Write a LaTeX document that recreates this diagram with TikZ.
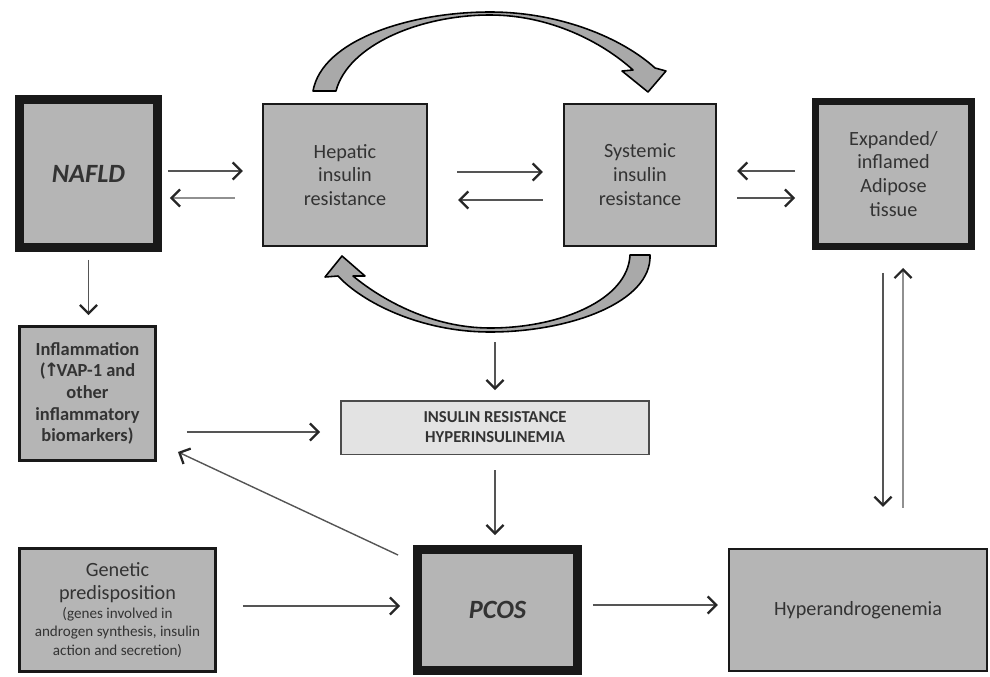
\documentclass[tikz,border=0pt]{standalone}
\usepackage{fontspec}
\setmainfont{Carlito}
\newfontfamily\symfont{DejaVu Sans}
\usepackage{tikz}
\usetikzlibrary{arrows.meta, positioning, calc}
\definecolor{boxgray}{HTML}{B5B5B5}
\definecolor{palegray}{HTML}{E3E3E3}
\definecolor{bandgray}{HTML}{A9A9A9}
\definecolor{inkgray}{HTML}{333333}
\definecolor{linegray}{HTML}{555555}
\newcommand{\smalltxt}{\fontsize{8.6}{10.2}\selectfont}

\begin{document}
\begin{tikzpicture}[
  x=0.02cm, y=-0.02cm,
  box/.style={rectangle, draw=black!90, line width=0.05cm, fill=boxgray,
              text=inkgray, align=center, inner sep=2pt,
              font=\fontsize{11.5}{13.6}\selectfont},
  heavybox/.style={box, line width=0.18cm,
              font=\fontsize{15}{17}\selectfont\bfseries\itshape},
  arrow/.style={-{Straight Barb[length=1.7mm, width=3.4mm, line width=1.3pt, color=black!85]},
              line width=0.8pt, color=linegray},
  band/.style={fill=bandgray, draw=black, line width=0.9pt, line join=round},
]
\useasboundingbox (0,0) rectangle (990,676);

\node[heavybox, minimum width=2.76cm, minimum height=2.96cm] (nafld) at (88.5,173.5) {NAFLD};
\node[box, minimum width=3.28cm, minimum height=2.84cm] (hepatic) at (345,175) {Hepatic\\insulin\\resistance};
\node[box, minimum width=3.04cm, minimum height=2.84cm] (systemic) at (640,175) {Systemic\\insulin\\resistance};
\node[heavybox, line width=0.14cm, font=\fontsize{11.5}{13.6}\selectfont,
      minimum width=3.12cm, minimum height=2.9cm] (adipose) at (893.5,174) {Expanded/\\inflamed\\Adipose\\tissue};
\node[box, line width=0.06cm, font=\fontsize{10.5}{12.3}\selectfont\bfseries,
      minimum width=2.72cm, minimum height=2.68cm] (inflam) at (87.5,393.5)
      {Inflammation\\(\kern-1pt{\symfont ↑}\kern-1.5pt VAP-1 and\\other\\inflammatory\\biomarkers)};
\node[box, fill=palegray, draw=black!70, line width=0.03cm,
      font=\fontsize{9.5}{11.3}\selectfont\bfseries,
      minimum width=6.17cm, minimum height=1.07cm] (irhi) at (495,427.5)
      {INSULIN RESISTANCE\\HYPERINSULINEMIA};
\node[box, line width=0.06cm, font=\fontsize{11.5}{13}\selectfont,
      minimum width=3.92cm, minimum height=2.46cm] (genetic) at (117.5,610)
      {Genetic\\predisposition\\[-2.5pt]
       \smalltxt (genes involved in\\[-2.5pt]\smalltxt androgen synthesis, insulin\\[-2.5pt]\smalltxt action and secretion)};
\node[heavybox, minimum width=3.2cm, minimum height=2.42cm] (pcos) at (497.5,610) {PCOS};
\node[box, minimum width=5.16cm, minimum height=2.44cm] (hyperandro) at (858,610) {Hyperandrogenemia};

\coordinate (irtop) at ($(irhi.north)+(0,-58)$);

\draw[band] (313,91) .. controls (322,40) and (410,12) .. (490,12)
  .. controls (560,12) and (622,38) .. (655,68) -- (666,71) -- (648,92) -- (622,71) -- (633,70)
  .. controls (602,42) and (550,15) .. (490,15)
  .. controls (420,15) and (348,45) .. (336,91) -- cycle;
\draw[band] (650,255) .. controls (652,302) and (570,332) .. (490,332)
  .. controls (420,332) and (362,302) .. (338,276) -- (325,277) -- (342,256) -- (365,276) -- (353,276)
  .. controls (382,300) and (432,328) .. (490,328)
  .. controls (560,328) and (628,300) .. (630,255) -- cycle;

\draw[arrow] ($(nafld.east)+(6,-2.5)$) -- ($(hepatic.west)+(-19,-4)$);
\draw[arrow] ($(hepatic.west)+(-27,23)$) -- ($(nafld.east)+(8,24.5)$);
\draw[arrow] ($(hepatic.east)+(29,-3)$) -- ($(systemic.west)+(-20,-3)$);
\draw[arrow] ($(systemic.west)+(-20,25)$) -- ($(hepatic.east)+(30,25)$);
\draw[arrow] ($(adipose.west)+(-17,-3)$) -- ($(systemic.east)+(20,-4)$);
\draw[arrow] ($(systemic.east)+(20,23)$) -- ($(adipose.west)+(-17,24)$);
\draw[arrow] ($(nafld.south)+(0,8)$) -- ($(inflam.north)+(1,-10)$);
\draw[arrow] (irtop) -- ($(irhi.north)+(0,-10)$);
\draw[arrow] ($(inflam.east)+(30,38.5)$) -- ($(irhi.west)+(-20,4.5)$);
\draw[arrow] ($(irhi.south)+(0,15)$) -- ($(pcos.north)+(-2.5,-10)$);
\draw[arrow] ($(pcos.north west)+(-15,10)$) -- ($(inflam.south east)+(21,-10)$);
\draw[arrow] ($(genetic.east)+(26,-4)$) -- ($(pcos.west)+(-13,-4)$);
\draw[arrow] ($(pcos.east)+(11,-5)$) -- ($(hyperandro.west)+(-10,-5)$);
\draw[arrow] ($(adipose.south)+(-10.5,23)$) -- ($(hyperandro.north)+(25,-41)$);
\draw[arrow] ($(hyperandro.north)+(45,-40)$) -- ($(adipose.south)+(9.5,18)$);
\end{tikzpicture}
\end{document}
